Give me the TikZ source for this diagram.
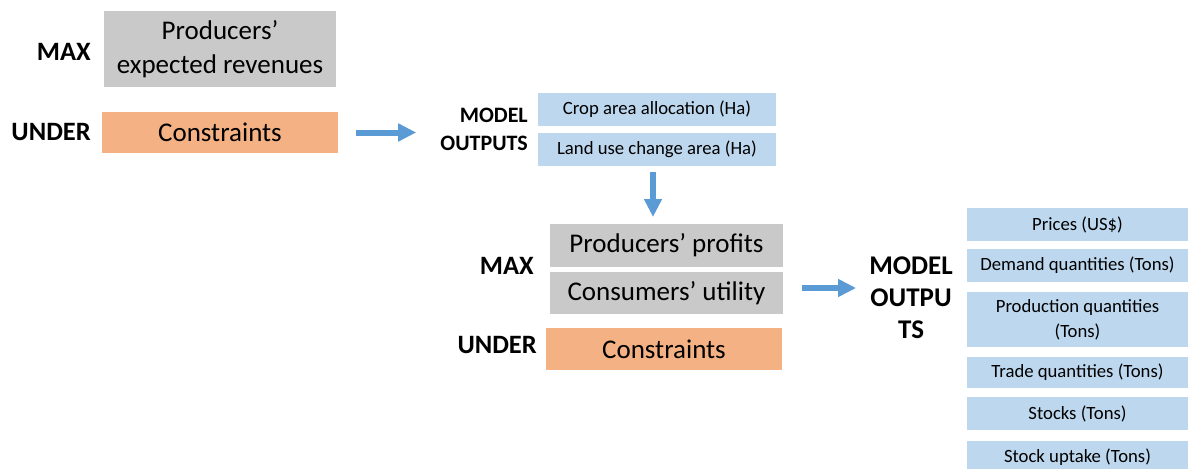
\documentclass[tikz,border=0pt]{standalone}
\usepackage{fontspec}
\setmainfont{Carlito}
\usetikzlibrary{arrows.meta}
\definecolor{boxgray}{HTML}{C9C9C9}
\definecolor{boxorange}{HTML}{F4B183}
\definecolor{boxblue}{HTML}{BDD7EE}
\definecolor{arrowblue}{HTML}{5B9BD5}
\begin{document}
\begin{tikzpicture}[x=1pt,y=-1pt,
  bigbox/.style={inner sep=0pt, outer sep=0pt, align=center,
    font=\fontsize{27}{34}\selectfont},
  graybox/.style={bigbox, fill=boxgray},
  orangebox/.style={bigbox, fill=boxorange},
  outbox/.style={inner sep=0pt, outer sep=0pt, align=center, fill=boxblue,
    font=\fontsize{18.7}{25}\selectfont},
  keyword/.style={inner sep=0pt, align=right, font=\bfseries\fontsize{26.5}{32}\selectfont},
  flow/.style={draw=arrowblue, line width=6pt,
    -{Triangle[width=17pt,length=18pt]}}
]
\useasboundingbox (0,0) rectangle (1190,468);

% ---- first model: expected revenues ----
\node[keyword, anchor=east] (max1) at (91,52) {MAX};
\node[graybox, minimum width=232pt, minimum height=76pt] (rev) at (220,49)
  {Producers’\\expected revenues};
\node[keyword, anchor=east] (under1) at (91,132) {UNDER};
\node[orangebox, minimum width=236pt, minimum height=41pt] (cons1) at (220,132.5)
  {Constraints};

\node[keyword, anchor=east, font=\bfseries\fontsize{22}{28}\selectfont] (out1) at (528,129)
  {MODEL\\OUTPUTS};
\node[outbox, minimum width=238pt, minimum height=33pt] (crop) at (657,109.5)
  {Crop area allocation (Ha)};
\node[outbox, minimum width=238pt, minimum height=33pt] (land) at (657,149.5)
  {Land use change area (Ha)};

% ---- second model: profits and utility ----
\node[graybox, minimum width=233pt, minimum height=43pt] (prof) at (666.5,245.5)
  {Producers’ profits};
\node[graybox, minimum width=233pt, minimum height=42pt] (util) at (666.5,293)
  {Consumers’ utility};
\node[keyword, anchor=east] (max2) at (534,266) {MAX};
\node[keyword, anchor=east] (under2) at (537,345) {UNDER};
\node[orangebox, minimum width=236pt, minimum height=42pt] (cons2) at (664,349)
  {Constraints};

\node[keyword, align=center, font=\bfseries\fontsize{27}{32}\selectfont] (out2) at (911,298)
  {MODEL\\OUTPU\\TS};

% ---- detailed outputs ----
\node[outbox, minimum width=221pt, minimum height=33pt] (price) at (1077.5,224.5)
  {Prices (US\$)};
\node[outbox, minimum width=221pt, minimum height=33pt] (demand) at (1077.5,265.5)
  {Demand quantities (Tons)};
\node[outbox, minimum width=221pt, minimum height=55pt] (prod) at (1077.5,319.5)
  {Production quantities\\(Tons)};
\node[outbox, minimum width=221pt, minimum height=31pt] (trade) at (1077.5,372.5)
  {Trade quantities (Tons)};
\node[outbox, minimum width=221pt, minimum height=33pt] (stock) at (1077.5,413.5)
  {Stocks (Tons)};
\node[outbox, minimum width=221pt, minimum height=33pt] (uptake) at (1077.5,457.5)
  {Stock uptake (Tons)};

% ---- flow arrows ----
\draw[flow, shorten <=18pt, shorten >=24pt] (cons1.east) -- (cons1.east -| out1.west);
\draw[flow, shorten <=6pt, shorten >=7pt] ([xshift=-4pt]land.south) -- ([xshift=-4pt]land.south |- prof.north);
\draw[flow, shorten <=19pt, shorten >=13pt] ([yshift=5pt]util.east) -- ([yshift=5pt]util.east -| out2.west);
\end{tikzpicture}
\end{document}
